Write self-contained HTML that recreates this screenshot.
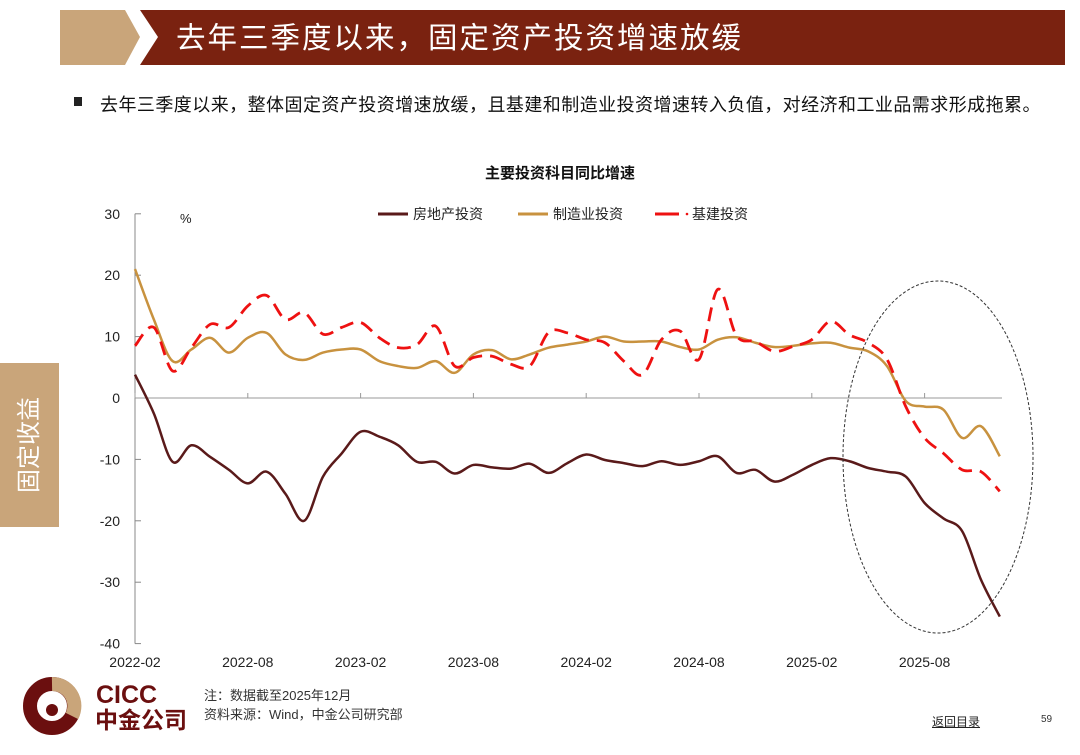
<!DOCTYPE html>
<html><head><meta charset="utf-8">
<style>
body{margin:0;width:1080px;height:755px;background:#fff;overflow:hidden;font-family:"Liberation Sans","Noto Sans CJK SC",sans-serif;position:relative}
.abs{position:absolute}
</style></head><body>
<svg class="abs" style="left:0;top:0" width="1080" height="80">
<polygon points="60,10 125,10 140,37 125,65 60,65" fill="#c9a57a"/>
<polygon points="140,10 1065,10 1065,65 140,65 158,37" fill="#7a2210"/>
<text x="176" y="48" fill="#fff" font-size="29.5" letter-spacing="2" font-family="Liberation Sans,Noto Sans CJK SC,sans-serif">去年三季度以来，固定资产投资增速放缓</text>
</svg>
<div class="abs" style="left:74px;top:97px;width:8px;height:9px;background:#222"></div>
<div class="abs" style="left:100px;top:91px;font-size:18px;letter-spacing:0.45px;color:#111;white-space:nowrap">去年三季度以来，整体固定资产投资增速放缓，且基建和制造业投资增速转入负值，对经济和工业品需求形成拖累。</div>
<div class="abs" style="left:0;top:363px;width:59px;height:164px;background:#c9a57a"></div>
<div class="abs" style="left:-22px;top:430px;width:104px;text-align:center;font-size:24px;color:#fff;line-height:30px;transform:rotate(-90deg);white-space:nowrap">固定收益</div>

<svg id="chart" class="abs" style="left:0;top:150px" width="1080" height="530"></svg>

<svg class="abs" style="left:20px;top:676px" width="180" height="60">
<circle cx="32" cy="30" r="22" fill="none" stroke="#6b0f0f" stroke-width="14"/>
<path d="M32 8 A22 22 0 0 1 52 40" fill="none" stroke="#c9a57a" stroke-width="14"/>
<circle cx="32" cy="34" r="6" fill="#6b0f0f"/>
<text x="76" y="27" font-size="25" font-weight="bold" fill="#6b0f0f" font-family="Liberation Sans,sans-serif">CICC</text>
<text x="75" y="52" font-size="23" font-weight="bold" fill="#6b0f0f" font-family="Liberation Sans,Noto Sans CJK SC,sans-serif">中金公司</text>
</svg>
<div class="abs" style="left:204px;top:686px;font-size:13px;color:#333;line-height:19px">注：数据截至2025年12月<br>资料来源：Wind，中金公司研究部</div>
<div class="abs" style="left:932px;top:713px;font-size:12px;color:#222;text-decoration:underline">返回目录</div>
<div class="abs" style="left:1041px;top:714px;font-size:10px;color:#333">59</div>

<script>
const tickLabels=["2022-02","2022-08","2023-02","2023-08","2024-02","2024-08","2025-02","2025-08"];
const yTicks=[30,20,10,0,-10,-20,-30,-40];
const realEstate=[3.8,-2.5,-10.4,-7.7,-9.6,-11.7,-13.9,-12,-15.6,-20,-12.8,-9,-5.5,-6.3,-7.7,-10.4,-10.4,-12.3,-10.9,-11.3,-11.5,-10.7,-12.2,-10.6,-9.2,-10.1,-10.6,-11.1,-10.3,-10.9,-10.3,-9.5,-12.2,-11.7,-13.6,-12.5,-10.9,-9.8,-10.3,-11.4,-12.0,-12.8,-17.1,-19.6,-21.7,-29.6,-35.6];
const manufacturing=[21,12.8,6.0,7.9,9.8,7.4,9.8,10.6,7.1,6.2,7.4,7.9,7.9,6.0,5.2,4.9,6.0,4.1,7.1,7.8,6.3,7.1,8.2,8.7,9.2,10.0,9.2,9.2,9.2,8.3,7.9,9.5,9.9,9.0,8.3,8.5,8.9,9.0,8.2,7.6,5.2,-0.5,-1.4,-1.9,-6.5,-4.6,-9.5];
const infrastructure=[8.5,11.5,4.4,8.2,12,11.5,15,16.7,12.8,13.9,10.4,11.5,12.3,9.8,8.2,8.7,11.7,5.2,6.6,6.8,5.5,5.2,10.7,10.6,9.5,9.0,6.0,3.8,9.5,10.9,6.3,17.7,10.1,9.2,7.6,8.4,9.5,12.5,10.3,9.0,6.3,-1.4,-6.5,-9.0,-11.7,-12.0,-15.2];

const svg=document.getElementById('chart');
const NS='http://www.w3.org/2000/svg';
const OY=150;
const x=i=>135+i*18.8;
const y=v=>398-OY-v*6.14;
function mk(tag,attrs,parent){const e=document.createElementNS(NS,tag);for(const k in attrs)e.setAttribute(k,attrs[k]);(parent||svg).appendChild(e);return e;}
const F='Liberation Sans,Noto Sans CJK SC,sans-serif';

let t=mk('text',{x:560,y:28,'text-anchor':'middle','font-size':15,'font-weight':'bold',fill:'#111','font-family':F});
t.textContent='主要投资科目同比增速';



let ya=mk('line',{x1:135,y1:y(30),x2:135,y2:y(-40),stroke:'#888','stroke-width':1});


yTicks.forEach(v=>{
  mk('line',{x1:135,y1:y(v),x2:141,y2:y(v),stroke:'#888'});
  let l=mk('text',{x:120,y:y(v)+5,'text-anchor':'end','font-size':14,fill:'#222','font-family':F});
  l.textContent=v;
  
  
});
let pu=mk('text',{x:180,y:y(30)+9,'font-size':13,fill:'#222','font-family':F});
pu.textContent='%';


let xa=mk('line',{x1:135,y1:y(0),x2:1002,y2:y(0),stroke:'#999','stroke-width':1});


tickLabels.forEach((s,k)=>{
  const xx=x(k*6);
  mk('line',{x1:xx,y1:y(0),x2:xx,y2:y(0)-5,stroke:'#999'});
  let l=mk('text',{x:xx,y:517,'text-anchor':'middle','font-size':14,fill:'#222','font-family':F});
  l.textContent=s;
  
  
});

function smooth(arr){
  const p=arr.map((v,i)=>[x(i),y(v)]);
  let d='M'+p[0][0]+','+p[0][1];
  for(let i=0;i<p.length-1;i++){
    const p0=p[i-1]||p[i],p1=p[i],p2=p[i+1],p3=p[i+2]||p2;
    const c1=[p1[0]+(p2[0]-p0[0])/6,p1[1]+(p2[1]-p0[1])/6];
    const c2=[p2[0]-(p3[0]-p1[0])/6,p2[1]-(p3[1]-p1[1])/6];
    d+=' C'+c1.join(',')+' '+c2.join(',')+' '+p2.join(',');
  }
  return d;
}
let s1=mk('path',{d:smooth(manufacturing),fill:'none',stroke:'#c8923f','stroke-width':2.5});


let s2=mk('path',{d:smooth(infrastructure),fill:'none',stroke:'#ee1111','stroke-width':2.8,'stroke-dasharray':'14,8'});


let s3=mk('path',{d:smooth(realEstate),fill:'none',stroke:'#5a1a1a','stroke-width':2.5});



let el=mk('ellipse',{cx:938,cy:457-OY,rx:95,ry:176,fill:'none',stroke:'#333','stroke-width':1,'stroke-dasharray':'3,2'});



const lg=[{n:'房地产投资',c:'#5a1a1a',x:378,d:''},{n:'制造业投资',c:'#c8923f',x:518,d:''},{n:'基建投资',c:'#ee1111',x:655,d:'dash'}];
lg.forEach(g=>{
  const gy=64;
  if(g.d){mk('line',{x1:g.x,y1:gy,x2:g.x+24,y2:gy,stroke:g.c,'stroke-width':3});mk('circle',{cx:g.x+32,cy:gy,r:1.3,fill:g.c});}
  else mk('line',{x1:g.x,y1:gy,x2:g.x+30,y2:gy,stroke:g.c,'stroke-width':3});
  let l=mk('text',{x:g.x+(g.d?37:35),y:gy+5,'font-size':14,fill:'#222','font-family':F});
  l.textContent=g.n;
  
  
});
</script>
</body></html>
